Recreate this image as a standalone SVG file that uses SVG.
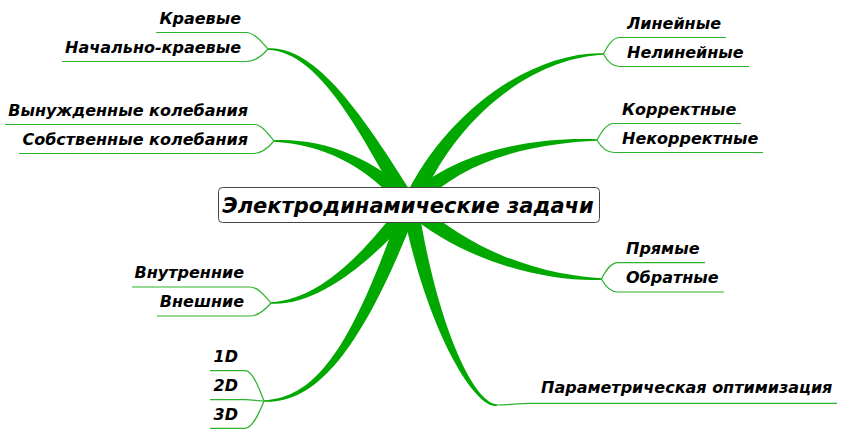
<svg xmlns="http://www.w3.org/2000/svg" width="841" height="434" viewBox="0 0 841 434">
<style>
.br{fill:#00a800;stroke:none}
.ln{fill:none;stroke:#2db42d;stroke-width:1.2}
text{font-family:"DejaVu Sans","Noto Sans",sans-serif;font-weight:bold;font-style:italic;fill:#000}
.c{font-size:16px}
.l{text-anchor:end}
.root{font-size:21px;text-anchor:middle}
</style>
<rect width="841" height="434" fill="#fff"/>
<g id="connectors">
<path class="br" d="M268,48.25 C320,45.8 369.8,127.1 416.9,200.9 L403.1,209.1 C360.2,132.9 320,52.2 268,49.75 Z"/>
<path class="br" d="M274,140.25 C320,137.8 374.2,156.3 416,199.7 L404,210.3 C365.8,163.7 320,144.2 274,141.75 Z"/>
<path class="br" d="M604,53.25 C540,50.8 449.9,102.7 402.7,201.7 L417.3,208.3 C460.1,107.3 540,57.2 604,54.75 Z"/>
<path class="br" d="M597,139.25 C540,136.8 455.9,148.2 404.2,199.5 L415.8,210.5 C464.1,155.8 540,143.2 597,140.75 Z"/>
<path class="br" d="M271,303.75 C320,306.2 374.4,258.5 416.2,210 L403.8,200 C365.6,251.5 320,299.8 271,302.25 Z"/>
<path class="br" d="M264,401.75 C320,404.2 365.2,341.9 417.5,207.8 L402.5,202.2 C354.8,338.1 320,397.8 264,400.25 Z"/>
<path class="br" d="M602,278.25 C550,275.8 473.8,255.9 415.4,199.1 L404.6,210.9 C466.2,264.1 550,282.2 602,279.75 Z"/>
<path class="br" d="M496.9,404.25 C474.7,403.8 437.5,329 417.9,203.6 L402.1,206.4 C426.5,331 475.3,410.2 497.1,405.75 Z"/>
<path class="ln" d="M156,32.5 H246 C254,32.5 262,42 268,49 C262,56 254,61.5 246,61.5 H62"/>
<path class="ln" d="M5,124.5 H254 C262,124.5 268,134 274,141 C268,148 262,153.5 254,153.5 H19"/>
<path class="ln" d="M132,287 H250 C258,287 265,296 271,303 C265,310 258,316 250,316 H157"/>
<path class="ln" d="M210,370.7 H245 C252,370.7 258,385 264,401 C258,416 252,428.3 245,428.3 H210"/>
<path class="ln" d="M210,399.7 H245 C252,399.7 258,401 264,401"/>
<path class="ln" d="M726,37.5 H620 C612,37.5 607,47 603.5,54 C607,61 612,66.5 620,66.5 H749"/>
<path class="ln" d="M741,123.5 H614 C606,123.5 601,133 597,140 C601,147 606,152.5 614,152.5 H763"/>
<path class="ln" d="M705,262.7 H618 C610,262.7 605,272 601.5,279 C605,286 610,292 618,292 H724"/>
<path class="ln" d="M497,405 C512,405 516,403.3 530,403.3 H837"/>
</g>
<g id="root">
<rect x="218.5" y="187.5" width="381" height="35" rx="4" fill="#fff" stroke="#444" stroke-width="1"/>
<text class="root" x="408" y="213">Электродинамические задачи</text>
</g>
<g id="n-kraevye"><text class="c l" x="241" y="24">Краевые</text></g>
<g id="n-nach-kraevye"><text class="c l" x="241" y="53">Начально-краевые</text></g>
<g id="n-vynuzhd"><text class="c l" x="248" y="116">Вынужденные колебания</text></g>
<g id="n-sobstv"><text class="c l" x="248" y="145">Собственные колебания</text></g>
<g id="n-vnutr"><text class="c l" x="244" y="278">Внутренние</text></g>
<g id="n-vnesh"><text class="c l" x="244" y="307">Внешние</text></g>
<g id="n-1d"><text class="c l" x="238" y="362">1D</text></g>
<g id="n-2d"><text class="c l" x="238" y="391">2D</text></g>
<g id="n-3d"><text class="c l" x="238" y="420">3D</text></g>
<g id="n-lin"><text class="c" x="627" y="29">Линейные</text></g>
<g id="n-nelin"><text class="c" x="627" y="58">Нелинейные</text></g>
<g id="n-korr"><text class="c" x="622" y="115">Корректные</text></g>
<g id="n-nekorr"><text class="c" x="622" y="144">Некорректные</text></g>
<g id="n-pryam"><text class="c" x="626" y="254">Прямые</text></g>
<g id="n-obr"><text class="c" x="626" y="283">Обратные</text></g>
<g id="n-param"><text class="c" x="541" y="393">Параметрическая оптимизация</text></g>
</svg>
